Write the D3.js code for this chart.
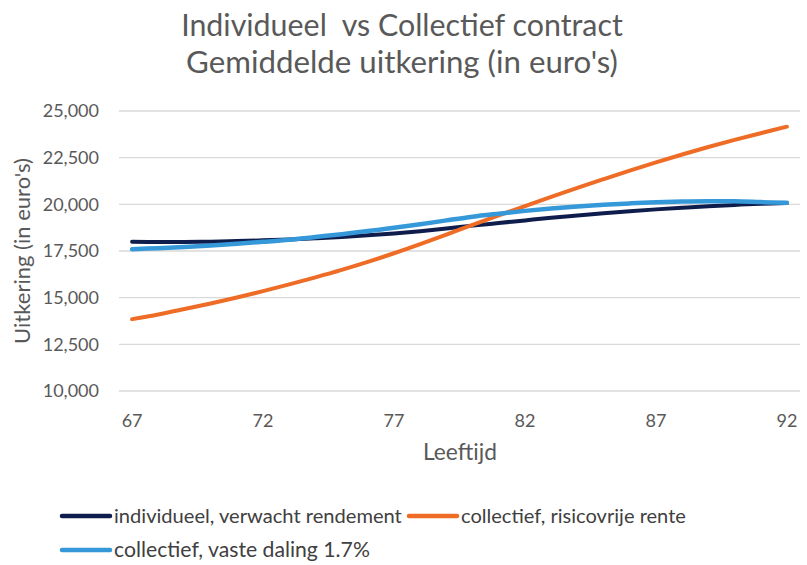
<!DOCTYPE html>
<html>
<head>
<meta charset="utf-8">
<script src="https://cdn.jsdelivr.net/npm/d3@7"></script>
<style>
  html, body { margin: 0; padding: 0; background: #fff; }
  text { font-family: Lato, "Open Sans", sans-serif; white-space: pre; }
</style>
</head>
<body>
<div id="chart"></div>
<script>
// Ages on the x axis (one point per year)
const ages = d3.range(67, 93);

// Series values in euro's
const individueel = [18000, 17980, 17980, 18000, 18030, 18070, 18120, 18180, 18250, 18340,
  18440, 18560, 18700, 18860, 19000, 19140, 19280, 19400, 19520, 19630,
  19730, 19820, 19900, 19970, 20030, 20070];
const risicovrij = [13850, 14100, 14390, 14690, 15010, 15350, 15710, 16090, 16490, 16920,
  17380, 17870, 18380, 18900, 19410, 19910, 20400, 20880, 21350, 21810,
  22250, 22670, 23070, 23450, 23810, 24160];
const vasteDaling = [17600, 17650, 17720, 17800, 17890, 17990, 18100, 18250, 18400, 18570,
  18740, 18930, 19140, 19340, 19500, 19650, 19780, 19890, 19980, 20050,
  20110, 20150, 20170, 20160, 20120, 20080];

const seriesNames = ["individueel, verwacht rendement", "collectief, risicovrije rente", "collectief, vaste daling 1.7%"];
const seriesColors = ["#0f1d4d", "#ef6c26", "#3598d8"];
const seriesValues = [individueel, risicovrij, vasteDaling];

const yTicks = [10000, 12500, 15000, 17500, 20000, 22500, 25000];
const xTicks = [67, 72, 77, 82, 87, 92];
const titleLines = ["Individueel  vs Collectief contract", "Gemiddelde uitkering (in euro's)"];

const W = 807, H = 565;
const svg = d3.select("#chart").append("svg")
  .attr("width", W).attr("height", H);

// Plot area
const x = d3.scaleLinear().domain([66.5, 92.5]).range([119, 800]);
const y = d3.scaleLinear().domain([10000, 25000]).range([391, 111]);

// scale a text's font so it spans the given width
function fit(sel, target) {
  sel.each(function() {
    const node = d3.select(this);
    const w = this.getComputedTextLength();
    const fs = parseFloat(node.attr("font-size"));
    node.attr("font-size", fs * target / w);
  });
}

// Title
const t1 = svg.append("text").attr("x", 402).attr("y", 36)
  .attr("text-anchor", "middle").attr("font-size", 26).attr("fill", "#595959")
  .text(titleLines[0]);
fit(t1, 442);
const t2 = svg.append("text").attr("x", 402).attr("y", 73)
  .attr("text-anchor", "middle").attr("font-size", 26).attr("fill", "#595959")
  .text(titleLines[1]);
fit(t2, 432);

// Gridlines
svg.append("g").selectAll("line").data(yTicks).join("line")
  .attr("x1", 119).attr("x2", 800)
  .attr("y1", d => y(d)).attr("y2", d => y(d))
  .attr("stroke", "#d9d9d9").attr("stroke-width", 1.3);

// Y axis labels
const fmt = d3.format(",");
svg.append("g").selectAll("text").data(yTicks).join("text")
  .attr("x", 99).attr("y", d => y(d)).attr("dy", "0.35em")
  .attr("text-anchor", "end").attr("font-size", 18).attr("fill", "#595959")
  .text(d => fmt(d));

// X axis labels
svg.append("g").selectAll("text").data(xTicks).join("text")
  .attr("x", d => x(d)).attr("y", 421).attr("dy", "0.35em")
  .attr("text-anchor", "middle").attr("font-size", 18).attr("fill", "#595959")
  .text(d => d);

// Axis titles
const xt = svg.append("text").attr("x", 460).attr("y", 452).attr("dy", "0.35em")
  .attr("text-anchor", "middle").attr("font-size", 17).attr("fill", "#595959")
  .text("Leeftijd");
fit(xt, 74);
const yt = svg.append("text")
  .attr("transform", "translate(22,251) rotate(-90)").attr("dy", "0.35em")
  .attr("text-anchor", "middle").attr("font-size", 17).attr("fill", "#595959")
  .text("Uitkering (in euro's)");
fit(yt, 186);

// Lines
const line = d3.line()
  .x((d, i) => x(ages[i]))
  .y(d => y(d))
  .curve(d3.curveCatmullRom);

svg.append("g").selectAll("path").data(seriesValues).join("path")
  .attr("d", d => line(d))
  .attr("fill", "none")
  .attr("stroke", (d, i) => seriesColors[i])
  .attr("stroke-width", (d, i) => i === 2 ? 4.5 : 4)
  .attr("stroke-linecap", "round")
  .attr("stroke-linejoin", "round");

// Legend
const legendPos = [[62, 516], [409, 516], [62, 550]];
const legendWidths = [288, 225, 256];
const lg = svg.append("g").selectAll("g").data(seriesNames).join("g")
  .attr("transform", (d, i) => `translate(${legendPos[i][0]},${legendPos[i][1]})`);
lg.append("line").attr("x1", 0).attr("x2", 48).attr("y1", 0).attr("y2", 0)
  .attr("stroke", (d, i) => seriesColors[i]).attr("stroke-width", 4.5)
  .attr("stroke-linecap", "round");
lg.append("text").attr("x", 52).attr("y", 0).attr("dy", "0.35em")
  .attr("font-size", 17).attr("fill", "#404040")
  .text(d => d)
  .each(function(d, i) { fit(d3.select(this), legendWidths[i]); });
</script>
</body>
</html>
